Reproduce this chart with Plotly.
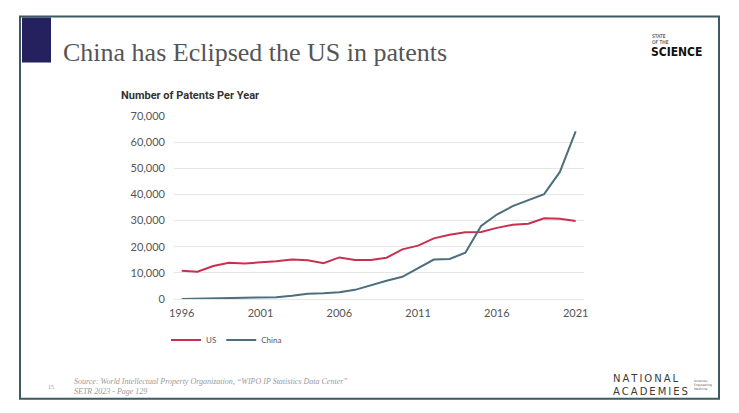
import plotly.graph_objects as go

# Data
years = list(range(1996, 2022))
us_patents = [10800, 10400, 12600, 13900, 13600, 13900, 14400, 15100, 14800, 13700,
              15900, 14900, 14900, 15800, 19000, 20400, 23200, 24600, 25500, 25600,
              27200, 28400, 28800, 30900, 30700, 29800]
china_patents = [0, 100, 200, 400, 500, 600, 700, 1200, 2000, 2200,
                 2600, 3500, 5300, 7000, 8500, 11700, 15100, 15300, 17700, 27900,
                 32300, 35500, 37900, 40100, 48600, 64100]
x_ticks = [1996, 2001, 2006, 2011, 2016, 2021]
y_ticks = [0, 10000, 20000, 30000, 40000, 50000, 60000, 70000]

W, H = 739, 413
L, R, T, B = 174, 584, 115.7, 299  # plot area in pixels


def px(x):
    return (x - L) / (R - L)


def py(y):
    return (B - y) / (B - T)


def note(x, y, text, size, family, color="#333333", align="left"):
    fig.add_annotation(xref="paper", yref="paper", x=px(x), y=py(y), text=text,
                       showarrow=False, xanchor="left", yanchor="middle", align=align,
                       font=dict(family=family, size=size, color=color))


fig = go.Figure()
fig.add_trace(go.Scatter(x=years, y=us_patents, name="US", mode="lines",
                         line=dict(color="#c9304f", width=2)))
fig.add_trace(go.Scatter(x=years, y=china_patents, name="China", mode="lines",
                         line=dict(color="#4b6f7c", width=2)))

# slide frame
fig.add_shape(type="rect", xref="paper", yref="paper",
              x0=px(20), x1=px(719), y0=py(16), y1=py(399),
              line=dict(color="#3d5a62", width=2), fillcolor="rgba(0,0,0,0)", layer="below")
# navy bar next to title
fig.add_shape(type="rect", xref="paper", yref="paper",
              x0=px(22), x1=px(51), y0=py(17), y1=py(62),
              line=dict(width=0), fillcolor="#24215e")

note(61, 52, "China has Eclipsed the US in patents", 26, "Liberation Serif", "#555555")
note(119, 95, "<b>Number of Patents Per Year</b>", 11, "Roboto", "#333333")

# logo top right
note(650, 36, "STATE", 5, "DejaVu Sans Condensed", "#222222")
note(650, 42, "OF THE", 5, "DejaVu Sans Condensed", "#222222")
note(649, 52, "<b>SCIENCE</b>", 12, "DejaVu Sans Condensed", "#111111")

# source footer
note(46, 387, "15", 6, "Liberation Serif", "#999999")
note(72, 387, "<i>Source: World Intellectual Property Organization, \u201cWIPO IP Statistics Data Center\u201d"
              "<br>SETR 2023 - Page 129</i>", 8, "Liberation Serif", "#999999")

# National Academies logo
ts = "\u2009"
note(611, 385, ts.join("NATIONAL") + "<br>" + ts.join("ACADEMIES"), 10, "DejaVu Sans", "#3a3a3a")
note(692, 385, "Sciences<br>Engineering<br>Medicine", 3, "DejaVu Sans", "#555555")

fig.update_layout(
    width=W, height=H,
    margin=dict(l=L, r=W - R, t=T, b=H - B, pad=0),
    plot_bgcolor="white", paper_bgcolor="white",
    font=dict(family="Lato", size=11, color="#555555"),
    showlegend=True,
    legend=dict(orientation="h", x=px(166), y=py(340), xanchor="left", yanchor="middle",
                font=dict(family="Lato", size=8, color="#555555"),
                itemwidth=30, bgcolor="rgba(0,0,0,0)"),
)
fig.update_xaxes(range=[1995.51, 2021.53], tickvals=x_ticks, ticktext=[str(v) for v in x_ticks],
                 showgrid=False, zeroline=False, showline=False, ticks="", ticklabelstandoff=6,
                 tickfont=dict(family="Lato", size=11, color="#555555"))
fig.update_yaxes(range=[0, 70000], tickvals=y_ticks, tickformat=",",
                 showgrid=True, gridcolor="#e6e6e6", gridwidth=1, zeroline=True,
                 zerolinecolor="#e6e6e6", zerolinewidth=1, showline=False, ticks="",
                 ticklabelstandoff=8,
                 tickfont=dict(family="Lato", size=11, color="#555555"))

fig.write_html("out.html", config={"displayModeBar": False},
               post_script="document.body.style.margin='0';")
